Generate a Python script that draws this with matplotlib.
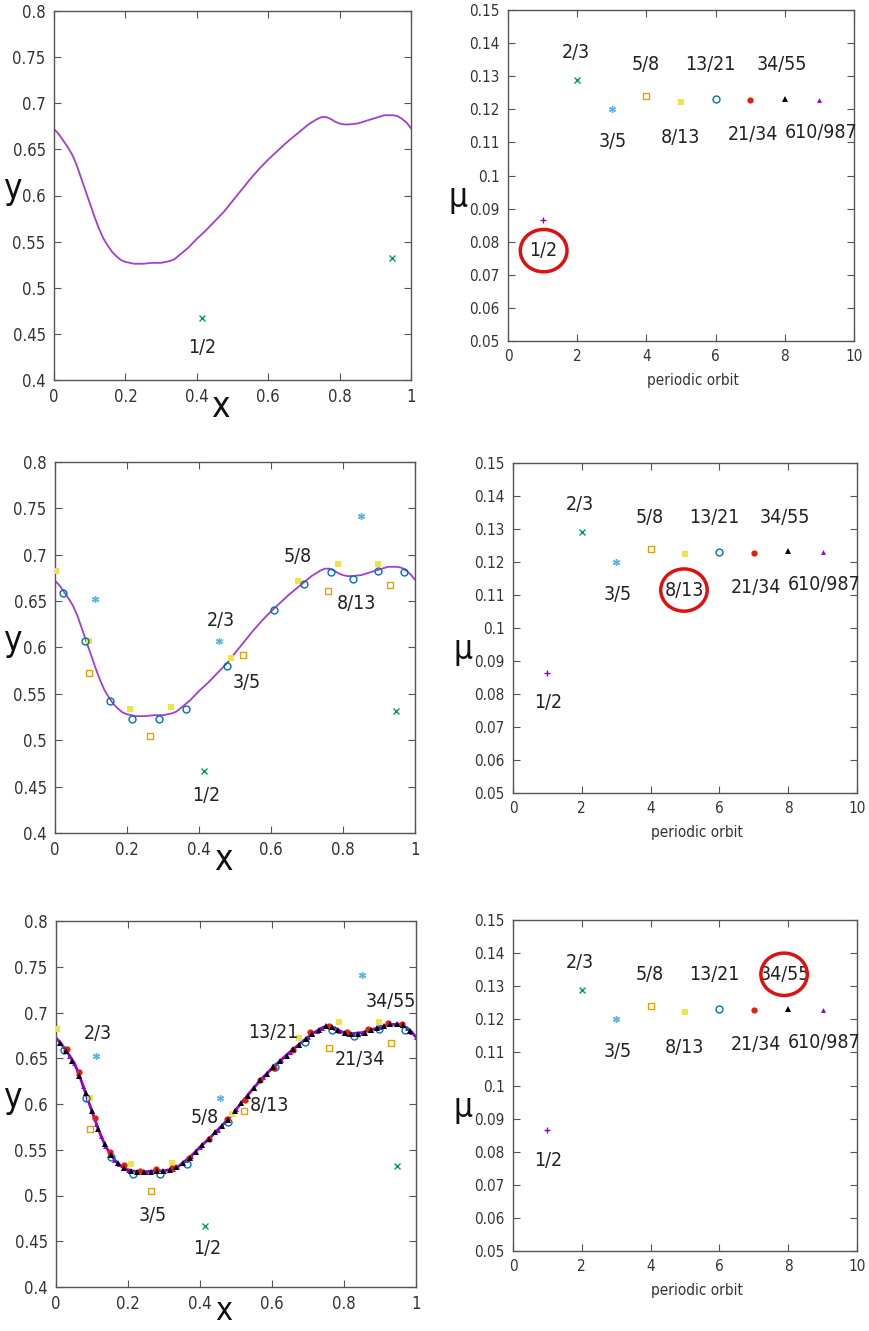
import matplotlib
matplotlib.use("Agg")
import matplotlib.pyplot as plt
from matplotlib.patches import Ellipse
from matplotlib.ticker import FuncFormatter

plt.rcParams['font.family'] = ['DejaVu Sans']
plt.rcParams['font.stretch'] = 'condensed'

W, H = 870, 1331

# invariant curve
curve_x = [0.000, 0.0125, 0.025, 0.0375, 0.050, 0.0625, 0.075, 0.0875, 0.100, 0.1125, 0.125,
           0.1375, 0.150, 0.1625, 0.175, 0.1875, 0.200, 0.225,
           0.250, 0.275, 0.300, 0.325, 0.3375, 0.350, 0.3625, 0.375, 0.400, 0.425, 0.450, 0.475,
           0.500, 0.525, 0.550, 0.575, 0.600, 0.625, 0.650, 0.675, 0.700, 0.7125, 0.725,
           0.7375, 0.750, 0.7625, 0.775, 0.7875, 0.800, 0.8125, 0.825, 0.850, 0.875, 0.900,
           0.925, 0.950, 0.9625, 0.975, 0.9875, 1.000]
curve_y = [0.672, 0.667, 0.660, 0.653, 0.645, 0.634, 0.620, 0.606, 0.592, 0.578, 0.565,
           0.554, 0.546, 0.539, 0.534, 0.530, 0.528, 0.526,
           0.526, 0.527, 0.527, 0.529, 0.531, 0.535, 0.539, 0.543, 0.553, 0.562, 0.572, 0.582,
           0.594, 0.606, 0.618, 0.629, 0.639, 0.648, 0.657, 0.665, 0.673, 0.677, 0.680,
           0.683, 0.685, 0.685, 0.683, 0.680, 0.678, 0.677, 0.677, 0.678, 0.681, 0.684,
           0.687, 0.687, 0.686, 0.683, 0.679, 0.673]

# periodic orbits
o12_x = [0.415, 0.946]
o12_y = [0.467, 0.532]
o23_x = [0.111, 0.456, 0.850]
o23_y = [0.652, 0.607, 0.7415]
o35_x = [0.095, 0.264, 0.523, 0.757, 0.931]
o35_y = [0.573, 0.505, 0.592, 0.661, 0.667]
o58_x = [0.003, 0.095, 0.208, 0.321, 0.488, 0.674, 0.785, 0.897]
o58_y = [0.682, 0.607, 0.534, 0.536, 0.589, 0.672, 0.690, 0.690]
o813_x = [0.021, 0.084, 0.153, 0.215, 0.290, 0.363, 0.478, 0.609, 0.692, 0.766, 0.829, 0.897, 0.970]
o813_y = [0.659, 0.607, 0.542, 0.523, 0.523, 0.534, 0.580, 0.640, 0.668, 0.681, 0.674, 0.682, 0.681]
o1321_x = [0.030, 0.064, 0.108, 0.150, 0.189, 0.233, 0.277, 0.321, 0.370, 0.426, 0.476,
           0.526, 0.568, 0.606, 0.657, 0.706, 0.757, 0.807, 0.866, 0.921, 0.960]
o1321_y = [0.660, 0.635, 0.585, 0.548, 0.533, 0.527, 0.529, 0.530, 0.541, 0.562, 0.584,
           0.604, 0.626, 0.639, 0.659, 0.679, 0.685, 0.679, 0.682, 0.688, 0.687]
o3455_x = [0.010, 0.027, 0.045, 0.063, 0.082, 0.100, 0.117, 0.136, 0.154, 0.171, 0.190,
           0.209, 0.226, 0.244, 0.263, 0.280, 0.298, 0.317, 0.334, 0.352, 0.371, 0.388,
           0.405, 0.424, 0.443, 0.460, 0.479, 0.496, 0.513, 0.532, 0.551, 0.568, 0.586,
           0.603, 0.622, 0.641, 0.658, 0.676, 0.695, 0.712, 0.730, 0.749, 0.766, 0.784,
           0.803, 0.820, 0.838, 0.857, 0.874, 0.892, 0.911, 0.928, 0.946, 0.965, 0.982]
o3455_y = [0.667, 0.658, 0.647, 0.631, 0.612, 0.592, 0.573, 0.556, 0.544, 0.535, 0.530,
           0.527, 0.526, 0.526, 0.526, 0.527, 0.527, 0.528, 0.531, 0.535, 0.541, 0.548,
           0.555, 0.562, 0.569, 0.576, 0.583, 0.592, 0.601, 0.609, 0.618, 0.626, 0.633,
           0.640, 0.647, 0.653, 0.660, 0.665, 0.671, 0.677, 0.681, 0.685, 0.684, 0.681,
           0.678, 0.677, 0.677, 0.678, 0.681, 0.683, 0.685, 0.687, 0.687, 0.686, 0.680]

# mu per orbit
orbit_idx = [1, 2, 3, 4, 5, 6, 7, 8, 9]
orbit_mu = [0.0865, 0.129, 0.120, 0.124, 0.1223, 0.123, 0.1228, 0.1232, 0.1229]
orbit_names = ['1/2', '2/3', '3/5', '5/8', '8/13', '13/21', '21/34', '34/55', '610/987']
name_x = [1.03, 1.95, 3.04, 3.98, 4.97, 5.85, 7.07, 7.9, 9.04]
name_y = [0.0773, 0.1373, 0.1103, 0.1335, 0.1115, 0.1336, 0.1123, 0.1336, 0.1131]

PURPLE = '#9400d3'
LINE = '#a13fd0'
GREEN = '#009e73'
SKY = '#56b4e9'
ORANGE = '#e69f00'
YELLOW = '#f0e442'
BLUE = '#0072b2'
RED = '#e51e10'
ASTER = (6, 2, 0)

styles = [
    dict(marker='+', color=PURPLE, ms=5, mew=1.0, mfc='none'),
    dict(marker='x', color=GREEN, ms=4, mew=1.0, mfc='none'),
    dict(marker=ASTER, color=SKY, ms=5, mew=1.0),
    dict(marker='s', color=ORANGE, ms=5, mew=1.0, mfc='none'),
    dict(marker='s', color=YELLOW, ms=4.5, mew=0),
    dict(marker='o', color=BLUE, ms=5, mew=1.0, mfc='none'),
    dict(marker='o', color=RED, ms=4.5, mew=0),
    dict(marker='^', color='black', ms=4.5, mew=0),
    dict(marker='^', color=PURPLE, ms=3.5, mew=0),
]

left_boxes = [(54, 411, 11, 380), (55, 415, 462, 833), (56, 416, 921, 1287)]
right_boxes = [(508, 854, 10, 341), (513, 857, 463, 793), (513, 857, 920, 1251)]
circled = [0, 4, 7]

left_labels = [
    [('1/2', 0.415, 0.435)],
    [('1/2', 0.419, 0.440), ('2/3', 0.460, 0.629), ('3/5', 0.532, 0.562),
     ('5/8', 0.674, 0.698), ('8/13', 0.836, 0.647)],
    [('2/3', 0.115, 0.677), ('3/5', 0.269, 0.478), ('1/2', 0.419, 0.442),
     ('5/8', 0.412, 0.585), ('8/13', 0.593, 0.598), ('13/21', 0.604, 0.678),
     ('21/34', 0.843, 0.649), ('34/55', 0.930, 0.712)],
]

fig = plt.figure(figsize=(W / 100, H / 100), dpi=100)


def box(l, r, t, b):
    return [l / W, 1 - b / H, (r - l) / W, (b - t) / H]


def style_axes(ax, size):
    for s in ax.spines.values():
        s.set_color('#555555')
        s.set_linewidth(1.0)
    ax.tick_params(direction='in', top=True, right=True, length=5, width=0.8,
                   color='#555555', labelsize=size, labelcolor='#333333', pad=6)
    ax.xaxis.set_major_formatter(FuncFormatter(lambda v, p: '%g' % round(v, 3)))
    ax.yaxis.set_major_formatter(FuncFormatter(lambda v, p: '%g' % round(v, 3)))


def ptext(x, y, s, size, **kw):
    fig.text(x / W, 1 - y / H, s, fontsize=size, ha='center', va='center', **kw)


for row in range(3):
    # left: phase space
    ax = fig.add_axes(box(*left_boxes[row]))
    style_axes(ax, 12)
    if row < 2:
        ax.plot(curve_x, curve_y, color=LINE, lw=1.3, zorder=2)
    else:
        ax.plot(curve_x, curve_y, color=PURPLE, lw=2.0, marker='^', ms=3.5, mew=0, zorder=2)
    orbits = [(o12_x, o12_y, 1)]
    if row >= 1:
        orbits += [(o23_x, o23_y, 2), (o35_x, o35_y, 3), (o58_x, o58_y, 4), (o813_x, o813_y, 5)]
    if row == 2:
        orbits += [(o1321_x, o1321_y, 6), (o3455_x, o3455_y, 7)]
    for ox, oy, k in orbits:
        ax.plot(ox, oy, ls='none', zorder=3, **styles[k])
    for s, tx, ty in left_labels[row]:
        ax.text(tx, ty, s, fontsize=14, ha='center', va='center', color='#222222')
    ax.set_xlim(0, 1)
    ax.set_ylim(0.4, 0.8)
    ax.set_xticks([0, 0.2, 0.4, 0.6, 0.8, 1])
    ax.set_yticks([0.4, 0.45, 0.5, 0.55, 0.6, 0.65, 0.7, 0.75, 0.8])

    l, r, t, b = left_boxes[row]
    ptext(12, (t + b) / 2 - 6, 'y', 25, color='#111111')
    ptext((l + r) / 2 - 12, b + (27 if row < 2 else 24), 'x', 25 if row < 2 else 23,
          color='#111111')

    # right: mu per orbit
    ax = fig.add_axes(box(*right_boxes[row]))
    style_axes(ax, 11)
    for i in range(len(orbit_idx)):
        ax.plot(orbit_idx[i], orbit_mu[i], ls='none', zorder=3, **styles[i])
        ax.text(name_x[i], name_y[i], orbit_names[i], fontsize=14, ha='center',
                va='center', color='#222222')
    c = circled[row]
    ax.add_patch(Ellipse((name_x[c] - (0.02 if c == 7 else 0), name_y[c]), 1.35, 0.0128,
                         fill=False, ec='#e01010', lw=2.5, zorder=4))
    ax.set_xlim(0, 10)
    ax.set_ylim(0.05, 0.15)
    ax.set_xticks([0, 2, 4, 6, 8, 10])
    ax.set_yticks([0.05, 0.06, 0.07, 0.08, 0.09, 0.1, 0.11, 0.12, 0.13, 0.14, 0.15])

    l, r, t, b = right_boxes[row]
    ptext(l - 50, (t + b) / 2 + 22, 'μ', 24, color='#111111')
    ptext((l + r) / 2 + 12, b + 40, 'periodic orbit', 11, color='#333333')

fig.savefig('out.png', dpi=100)
